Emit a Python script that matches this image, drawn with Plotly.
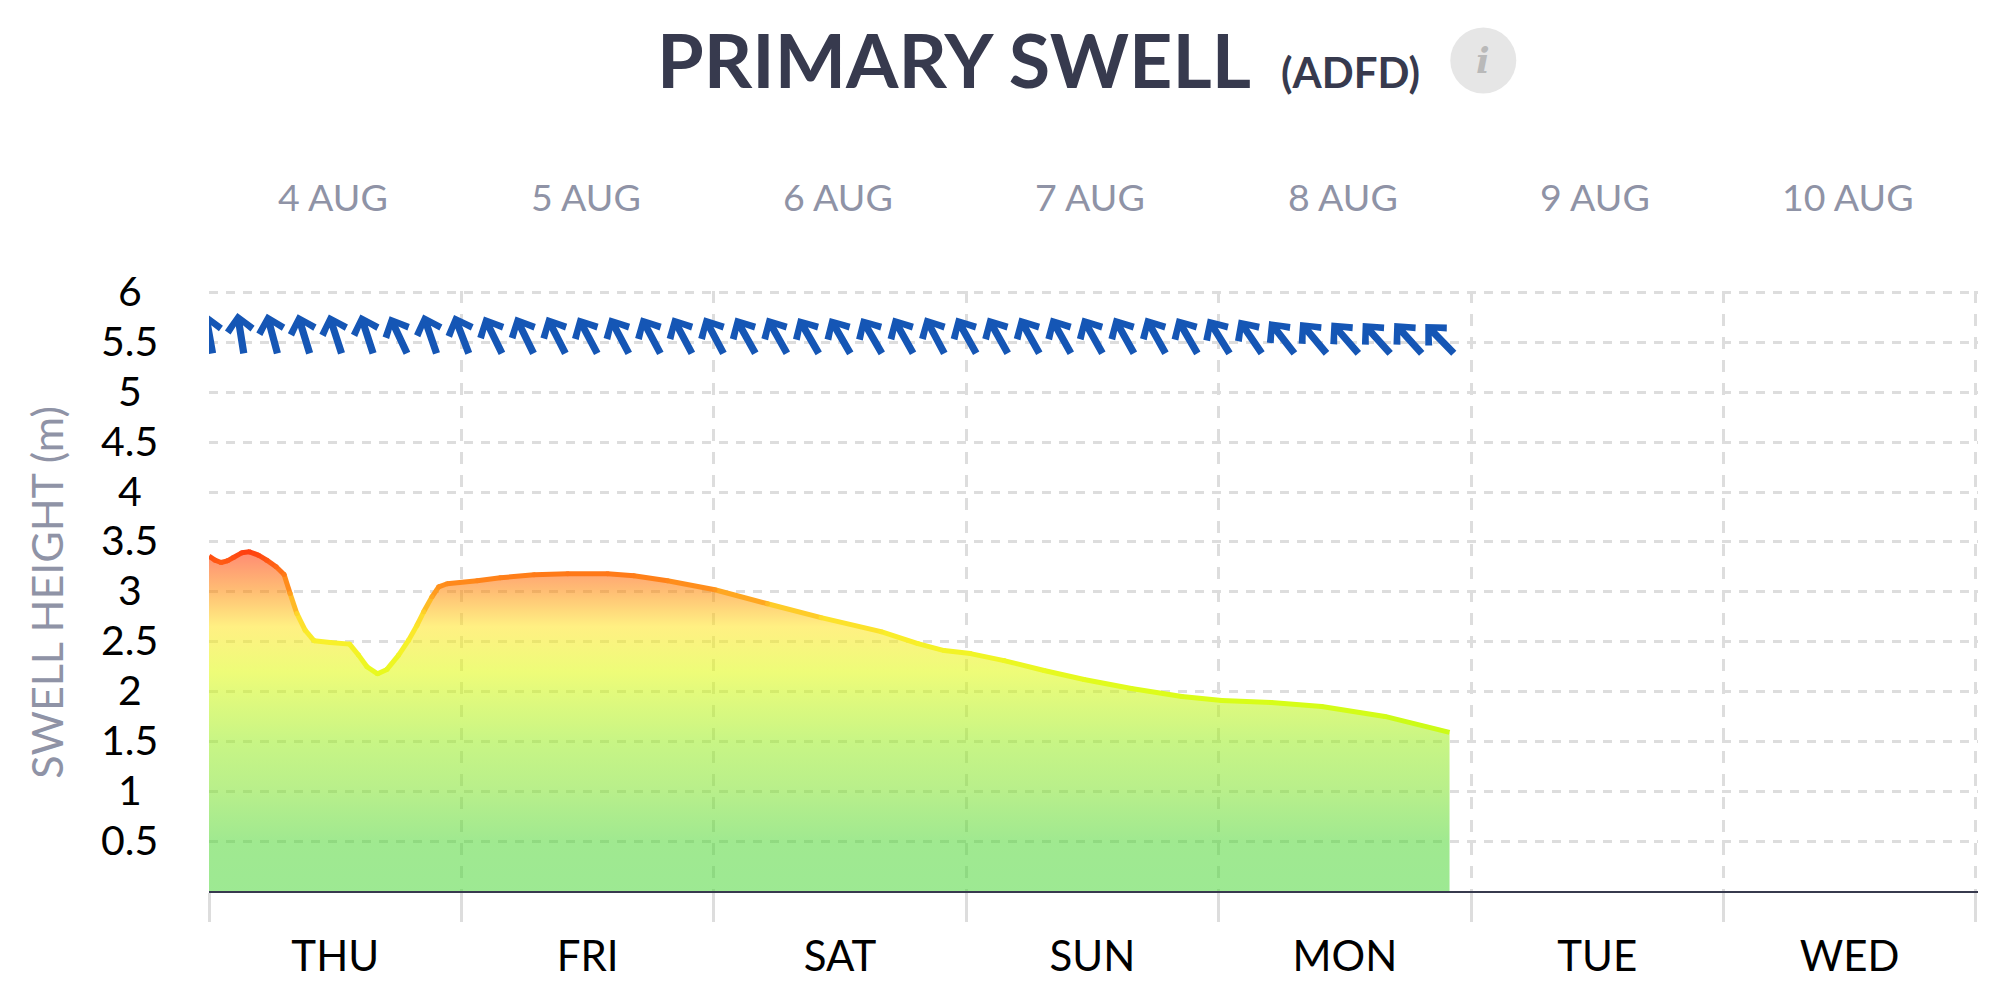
import plotly.graph_objects as go
from plotly.colors import sample_colorscale
from math import cos, radians, sin

# pixel layout of the plot area in the window, the page body adds 8px around the figure
WIDTH, HEIGHT = 1998, 999
BODY_MARGIN = 8
HOUR_PX = 10.515
UNIT_PX = 99.87
PLOT_LEFT, PLOT_RIGHT = 209.0, 1977.6
PLOT_BOTTOM = 891.5
Y_MAX = 6.015  # a little over 6 so the top gridline is kept
PLOT_TOP = PLOT_BOTTOM - Y_MAX * UNIT_PX

day_hours = [12, 36, 60, 84, 108, 132, 156]
day_names = ["THU", "FRI", "SAT", "SUN", "MON", "TUE", "WED"]
date_labels = ["4 AUG", "5 AUG", "6 AUG", "7 AUG", "8 AUG", "9 AUG", "10 AUG"]
boundary_hours = [0, 24, 48, 72, 96, 120, 144, 168]
height_ticks = [0.5, 1, 1.5, 2, 2.5, 3, 3.5, 4, 4.5, 5, 5.5, 6]
height_labels = ["0.5", "1", "1.5", "2", "2.5", "3", "3.5", "4", "4.5", "5", "5.5", "6"]

swell_hours = [
    0.0, 0.57, 1.14, 1.75, 2.32, 3.11, 3.84, 4.70, 5.49, 6.38, 7.14, 7.71, 8.35, 9.14,
    10.0, 11.52, 13.37, 14.22, 15.02, 16.03, 16.92, 18.03, 18.98, 19.78, 20.41, 21.2,
    21.84, 22.64, 25.5, 27.7, 30.9, 34.1, 37.9, 40.4, 43.6, 48.1, 53.1, 58.2, 63.9, 67.4,
    69.9, 72.4, 75.6, 79.4, 83.2, 87.7, 92.5, 96.3, 101.0, 105.8, 111.8, 117.95,
]
swell_height = [
    3.357, 3.317, 3.293, 3.31, 3.343, 3.39, 3.40, 3.367, 3.317, 3.25, 3.173, 2.983, 2.782, 2.615,
    2.508, 2.492, 2.475, 2.365, 2.248, 2.177, 2.221, 2.365, 2.515, 2.665, 2.799, 2.949,
    3.049, 3.08, 3.11, 3.14, 3.17, 3.18, 3.18, 3.16, 3.11, 3.02, 2.88, 2.74, 2.60, 2.48,
    2.41, 2.38, 2.31, 2.21, 2.12, 2.03, 1.95, 1.91, 1.89, 1.85, 1.75, 1.59,
]

# arrow direction every 3 hours, degrees from north
arrow_hours = list(range(0, 120, 3))
arrow_degrees = [
    -10, -9, -15, -17, -18, -18, -25, -19, -21, -26,
    -26, -27, -28, -28, -28, -28, -28, -29, -29, -30,
    -30, -30, -29, -28, -29, -29, -29, -29, -29, -29,
    -29, -30, -32, -34, -38, -40, -41, -42, -42, -44,
]
arrow_tail_height = 5.39
# arrow outline in px: along the shaft from the tail, across the shaft
arrow_along = [41, 25.5, 20.6, 28, 0, 0, 28, 20.6, 25.5, 41]
arrow_across = [0, 15, 10.1, 3.6, 3.6, -3.6, -3.6, -10.1, -15, 0]

fill_heights = [0, 0.5, 1.0, 1.5, 2.2, 2.65, 3.0, 3.4, 3.5]
fill_colors = [
    "rgba(77,215,58,0.55)", "rgba(82,215,53,0.55)", "rgba(126,226,44,0.55)",
    "rgba(155,237,33,0.55)", "rgba(224,250,10,0.55)", "rgba(255,228,29,0.55)",
    "rgba(255,138,2,0.55)", "rgba(255,44,0,0.55)", "rgba(255,44,0,0.55)",
]
line_heights = [1.6, 1.9, 2.2, 2.5, 2.75, 3.0, 3.17, 3.4]
line_colors = ["#c8fa18", "#d8fd18", "#e8f920", "#f8f02a", "#fedc2c", "#ff9a1e", "#ff7b18", "#ff4010"]

GRID = "#dddddd"
TITLE_COLOR = "#373a4e"
MUTED = "#8f93a6"


def paper_x(px):
    return (px - PLOT_LEFT) / (PLOT_RIGHT - PLOT_LEFT)


def paper_y(px):
    return (PLOT_BOTTOM - px) / (PLOT_BOTTOM - PLOT_TOP)


fill_scale = [[h / fill_heights[-1], c] for h, c in zip(fill_heights, fill_colors)]
line_scale = [
    [(h - line_heights[0]) / (line_heights[-1] - line_heights[0]), c]
    for h, c in zip(line_heights, line_colors)
]


def line_color(height):
    t = (height - line_heights[0]) / (line_heights[-1] - line_heights[0])
    return sample_colorscale(line_scale, [min(max(t, 0), 1)])[0]


fig = go.Figure()

fig.add_trace(
    go.Scatter(
        x=swell_hours,
        y=swell_height,
        mode="none",
        fill="tozeroy",
        fillgradient=dict(
            type="vertical", colorscale=fill_scale, start=0, stop=fill_heights[-1]
        ),
        hoverinfo="skip",
    )
)

# the line changes colour with height, so it is drawn piece by piece
for i in range(len(swell_hours) - 1):
    fig.add_trace(
        go.Scatter(
            x=swell_hours[i : i + 2],
            y=swell_height[i : i + 2],
            mode="lines",
            line=dict(color=line_color((swell_height[i] + swell_height[i + 1]) / 2), width=5),
            hoverinfo="skip",
        )
    )
fig.add_trace(
    go.Scatter(
        x=swell_hours[1:-1],
        y=swell_height[1:-1],
        mode="markers",
        marker=dict(color=[line_color(h) for h in swell_height[1:-1]], size=5),
        hoverinfo="skip",
    )
)

arrow_x, arrow_y = [], []
for hour, degrees in zip(arrow_hours, arrow_degrees):
    a = radians(degrees)
    # the tail swings sideways as the arrow turns, the tail height stays put
    tail_x = hour + 20.5 * -sin(a) / HOUR_PX
    for along, across in zip(arrow_along, arrow_across):
        arrow_x.append(tail_x + (along * sin(a) + across * cos(a)) / HOUR_PX)
        arrow_y.append(arrow_tail_height + (along * cos(a) - across * sin(a)) / UNIT_PX)
    arrow_x.append(None)
    arrow_y.append(None)
fig.add_trace(
    go.Scatter(
        x=arrow_x,
        y=arrow_y,
        mode="none",
        fill="toself",
        fillcolor="#1556b5",
        hoverinfo="skip",
    )
)

annotations = [
    dict(
        text="<b>PRIMARY SWELL</b>",
        xref="paper", yref="paper",
        x=paper_x(655), y=paper_y(58),
        xanchor="left", yanchor="middle", showarrow=False,
        font=dict(family="Lato", size=75.5, color=TITLE_COLOR),
    ),
    dict(
        text="<b>(ADFD)</b>",
        xref="paper", yref="paper",
        x=paper_x(1279), y=paper_y(72),
        xanchor="left", yanchor="middle", showarrow=False,
        font=dict(family="Lato", size=42, color=TITLE_COLOR),
    ),
    dict(
        text="<b><i>i</i></b>",
        xref="paper", yref="paper",
        x=paper_x(1483), y=paper_y(60),
        xanchor="center", yanchor="middle", showarrow=False,
        font=dict(family="DejaVu Serif", size=36, color="#b9b9b9"),
    ),
    dict(
        text="SWELL HEIGHT (m)",
        xref="paper", yref="paper",
        x=paper_x(47), y=paper_y(592),
        xanchor="center", yanchor="middle", showarrow=False, textangle=-90,
        font=dict(family="Lato", size=43, color=MUTED),
    ),
]
for hour, label in zip(day_hours, date_labels):
    annotations.append(
        dict(
            text=label,
            xref="x", yref="paper",
            x=hour - 0.2, y=paper_y(196.5),
            xanchor="center", yanchor="middle", showarrow=False,
            font=dict(family="Lato", size=37.5, color=MUTED),
        )
    )
for tick, label in zip(height_ticks, height_labels):
    annotations.append(
        dict(
            text=label,
            xref="paper", yref="y",
            x=paper_x(130), y=tick,
            yshift=2,
            xanchor="center", yanchor="middle", showarrow=False,
            font=dict(family="Lato", size=41, color="#000000"),
        )
    )

fig.update_layout(
    width=WIDTH - 2 * BODY_MARGIN,
    height=HEIGHT - 2 * BODY_MARGIN,
    margin=dict(
        l=PLOT_LEFT - BODY_MARGIN,
        r=WIDTH - BODY_MARGIN - PLOT_RIGHT,
        t=PLOT_TOP - BODY_MARGIN,
        b=HEIGHT - BODY_MARGIN - PLOT_BOTTOM,
        pad=0,
    ),
    paper_bgcolor="white",
    plot_bgcolor="white",
    showlegend=False,
    annotations=annotations,
    shapes=[
        dict(
            type="circle",
            xref="paper", yref="paper",
            xsizemode="pixel", ysizemode="pixel",
            xanchor=paper_x(1483), yanchor=paper_y(60),
            x0=-33, x1=33, y0=-33, y1=33,
            fillcolor="#e6e6e6", line=dict(width=0),
            layer="below",
        )
    ],
)
fig.update_xaxes(
    range=[0, (PLOT_RIGHT - PLOT_LEFT) / HOUR_PX],
    tickmode="array",
    tickvals=day_hours,
    ticktext=day_names,
    ticks="outside",
    ticklen=28,
    tickcolor="rgba(0,0,0,0)",
    tickfont=dict(family="Lato", size=42, color="#000000"),
    showgrid=False,
    zeroline=False,
    showline=True,
    linecolor=TITLE_COLOR,
    linewidth=2,
    minor=dict(
        tickmode="array",
        tickvals=boundary_hours,
        ticks="outside",
        ticklen=29,
        tickwidth=3,
        tickcolor=GRID,
        showgrid=True,
        gridcolor=GRID,
        gridwidth=3,
        griddash="12px,11px",
    ),
)
fig.update_yaxes(
    range=[0, Y_MAX],
    tickmode="array",
    tickvals=height_ticks,
    showticklabels=False,
    ticks="",
    showgrid=True,
    gridcolor=GRID,
    gridwidth=3,
    griddash="9px,8px",
    zeroline=False,
)

fig.write_html("out.html")
